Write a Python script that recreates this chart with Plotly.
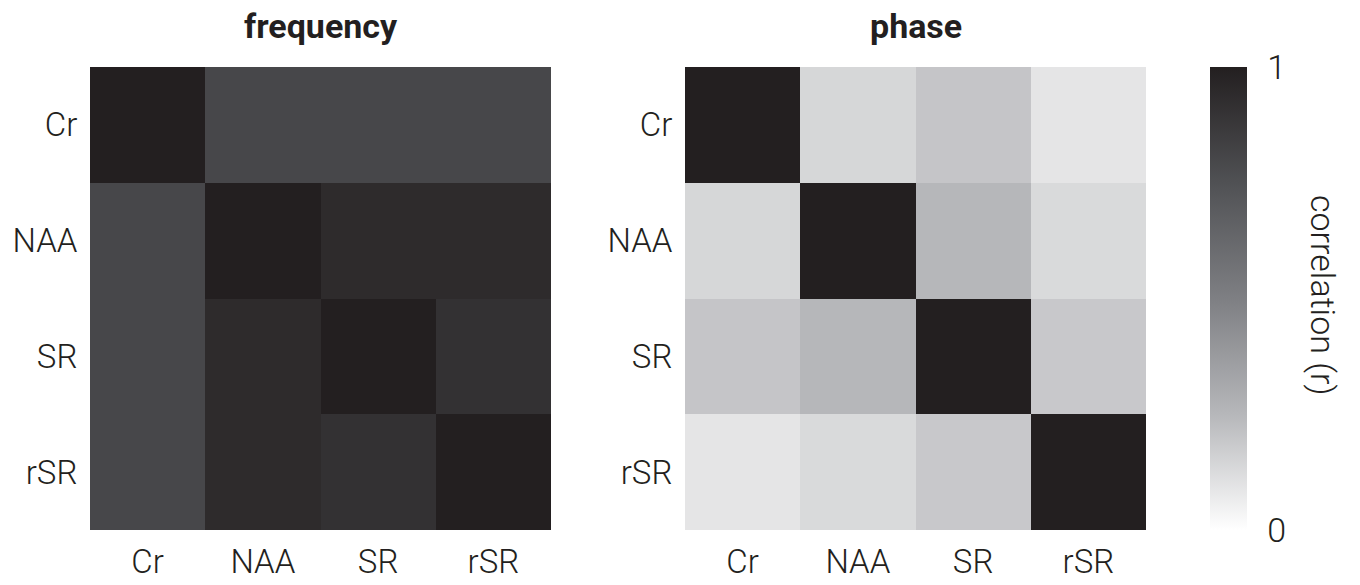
import plotly.graph_objects as go

# Metabolite labels shared by both matrices
labels = ["Cr", "NAA", "SR", "rSR"]

# Correlation (r) between metabolites: frequency and phase
freq_r = [
    [1.00, 0.80, 0.80, 0.80],
    [0.80, 1.00, 0.94, 0.94],
    [0.80, 0.94, 1.00, 0.91],
    [0.80, 0.94, 0.91, 1.00],
]
phase_r = [
    [1.00, 0.14, 0.20, 0.09],
    [0.14, 1.00, 0.25, 0.13],
    [0.20, 0.25, 1.00, 0.19],
    [0.09, 0.13, 0.19, 1.00],
]

cbar_ticks = [0, 1]

W, H = 1360, 585

# grey scale from white (r = 0) to near-black (r = 1)
greys = [
    [0.0, "#ffffff"],
    [0.25, "#b6b7ba"],
    [0.5, "#7e7f83"],
    [0.75, "#505154"],
    [1.0, "#231f20"],
]

FONT = "Roboto"
INK = "#231f20"
top_px, bot_px = 67, 530
ydom = [(H - bot_px) / H, (H - top_px) / H]

fig = go.Figure()

fig.add_trace(go.Heatmap(
    z=freq_r, x=labels, y=labels, zmin=0, zmax=1,
    colorscale=greys, showscale=False, xaxis="x", yaxis="y",
    hovertemplate="%{y} / %{x}: %{z}<extra></extra>",
))
fig.add_trace(go.Heatmap(
    z=phase_r, x=labels, y=labels, zmin=0, zmax=1,
    colorscale=greys, xaxis="x2", yaxis="y2",
    hovertemplate="%{y} / %{x}: %{z}<extra></extra>",
    colorbar=dict(
        x=1210 / W, xanchor="left", xpad=0,
        y=ydom[0], yanchor="bottom", ypad=0,
        len=(bot_px - top_px) / H, lenmode="fraction",
        thickness=37, thicknessmode="pixels",
        outlinewidth=0, tickvals=cbar_ticks, ticktext=[str(t) for t in cbar_ticks],
        ticks="outside", ticklen=14, tickcolor="rgba(0,0,0,0)",
        tickfont=dict(family=FONT, size=34, weight=300, color=INK),
    ),
))

tick_font = dict(family=FONT, size=33, weight=300, color=INK)

def xaxis(dom, anchor):
    return dict(domain=dom, anchor=anchor, type="category",
                showgrid=False, zeroline=False, showline=False,
                ticks="outside", ticklen=2, tickcolor="rgba(0,0,0,0)",
                tickfont=tick_font, automargin=False, fixedrange=True)

def yaxis(anchor):
    return dict(domain=ydom, anchor=anchor, type="category",
                autorange="reversed",
                showgrid=False, zeroline=False, showline=False,
                ticks="outside", ticklen=5, tickcolor="rgba(0,0,0,0)",
                tickfont=tick_font, automargin=False, fixedrange=True)

title_font = dict(family=FONT, size=34, weight=700, color=INK)

fig.update_layout(
    width=W, height=H,
    margin=dict(l=0, r=0, t=0, b=0),
    paper_bgcolor="white", plot_bgcolor="white",
    font=dict(family=FONT, color=INK),
    xaxis=xaxis([90 / W, 551 / W], "y"),
    yaxis=yaxis("x"),
    xaxis2=xaxis([685 / W, 1146 / W], "y2"),
    yaxis2=yaxis("x2"),
    annotations=[
        dict(text="frequency", x=(90 + 551) / 2 / W, y=1 - 26 / H,
             xref="paper", yref="paper", showarrow=False,
             xanchor="center", yanchor="middle", font=title_font),
        dict(text="phase", x=(685 + 1146) / 2 / W, y=1 - 26 / H,
             xref="paper", yref="paper", showarrow=False,
             xanchor="center", yanchor="middle", font=title_font),
        dict(text="correlation (r)", x=1323 / W, y=1 - 295 / H,
             xref="paper", yref="paper", showarrow=False, textangle=90,
             xanchor="center", yanchor="middle",
             font=dict(family=FONT, size=34, weight=300, color=INK)),
    ],
)

fig.write_html("out.html")
